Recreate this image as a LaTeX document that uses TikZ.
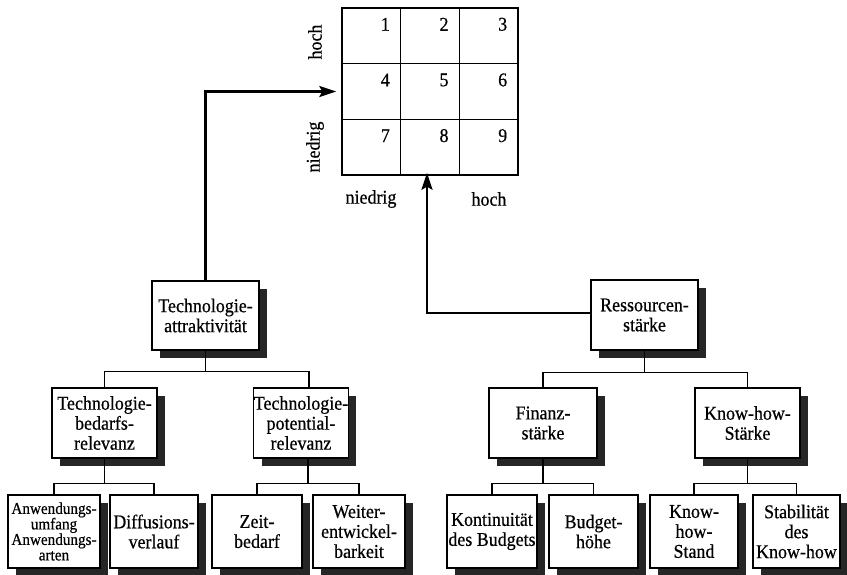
\documentclass[tikz,border=0pt]{standalone}
\usepackage{fontspec}
\setmainfont{Liberation Serif}[FakeStretch=0.92, FakeBold=0.5]
\usetikzlibrary{shadows,arrows.meta}
\begin{document}
\begin{tikzpicture}[x=1pt,y=-1pt,
  box/.style={draw, line width=1.3pt, fill=white, align=center, inner sep=0pt,
    font=\fontsize{19.5}{20}\selectfont,
    drop shadow={shadow xshift=8pt,shadow yshift=-8pt,fill=black!85,opacity=1}},
  cell/.style={draw, line width=1.4pt, minimum width=58.67pt, minimum height=55.67pt, inner sep=0pt},
  num/.style={font=\fontsize{19.5}{20}\selectfont, inner sep=0pt},
  axis/.style={font=\fontsize{19.5}{20}\selectfont, inner sep=0pt},
  conn/.style={line width=1.1pt},
  arr/.style={line width=2.6pt, -{Stealth[length=17pt,width=11pt,inset=3pt]}}
]
\useasboundingbox (0,0) rectangle (847,574);
% grid
\node[cell] (c1) at (371.33,35.83) {};
\node[cell] (c2) at (430,35.83) {};
\node[cell] (c3) at (488.67,35.83) {};
\node[cell] (c4) at (371.33,91.5) {};
\node[cell] (c5) at (430,91.5) {};
\node[cell] (c6) at (488.67,91.5) {};
\node[cell] (c7) at (371.33,147.17) {};
\node[cell] (c8) at (430,147.17) {};
\node[cell] (c9) at (488.67,147.17) {};
\foreach \i in {1,...,9} {
  \node[num] (n\i) at ([shift={(-16,17)}]c\i.north east) {\i};
}
\node[axis, rotate=90] (yh) at (315,42) {hoch};
\node[axis, rotate=90] (yn) at (315,147) {niedrig};
\node[axis] (xn) at (371,199) {niedrig};
\node[axis] (xh) at (489,199) {hoch};

% level 1
\node[box, minimum width=107pt, minimum height=69pt] (TA) at (205.5,315.5) {Technologie-\\attraktivität};
\node[box, minimum width=107pt, minimum height=70pt] (RS) at (644.5,315) {Ressourcen-\\stärke};
% level 2
\node[box, minimum width=105pt, minimum height=70pt] (TB) at (104.5,423) {Technologie-\\bedarfs-\\relevanz};
\node[box, minimum width=94pt, minimum height=70pt] (TP) at (301,423) {Technologie-\\potential-\\relevanz};
\node[box, minimum width=108pt, minimum height=70pt] (FS) at (543,423) {Finanz-\\stärke};
\node[box, minimum width=105pt, minimum height=70pt] (KS) at (747.5,423) {Know-how-\\Stärke};
% level 3
\node[box, minimum width=92pt, minimum height=73pt, font=\fontsize{16.5}{15.5}\selectfont] (AW) at (54,531.5) {Anwendungs-\\umfang\\Anwendungs-\\arten};
\node[box, minimum width=88pt, minimum height=73pt] (DV) at (154,531.5) {Diffusions-\\verlauf};
\node[box, minimum width=90pt, minimum height=73pt] (ZB) at (257,531.5) {Zeit-\\bedarf};
\node[box, minimum width=92pt, minimum height=73pt] (WE) at (359,531.5) {Weiter-\\entwickel-\\barkeit};
\node[box, minimum width=90pt, minimum height=73pt] (KB) at (492,531.5) {Kontinuität\\des Budgets};
\node[box, minimum width=89pt, minimum height=73pt] (BH) at (593.5,531.5) {Budget-\\höhe};
\node[box, minimum width=88pt, minimum height=73pt] (KN) at (694,531.5) {Know-\\how-\\Stand};
\node[box, minimum width=87pt, minimum height=73pt] (SK) at (796.5,531.5) {Stabilität\\des\\Know-how};

% connectors
\draw[conn] (TA.south) -- ++(0,21) -| (TB.north);
\draw[conn] (TA.south) -- ++(0,21) -| ([xshift=8pt]TP.north);
\draw[conn] (RS.south) -- ++(0,22) -| (FS.north);
\draw[conn] (RS.south) -- ++(0,22) -| (KS.north);
\draw[conn] (TB.south) -- ++(0,25) -| (AW.north);
\draw[conn] (TB.south) -- ++(0,25) -| (DV.north);
\draw[conn] ([xshift=7pt]TP.south) -- ++(0,25) -| (ZB.north);
\draw[conn] ([xshift=7pt]TP.south) -- ++(0,25) -| (WE.north);
\draw[conn] (FS.south) -- ++(0,25) -| (KB.north);
\draw[conn] (FS.south) -- ++(0,25) -| (BH.north);
\draw[conn] (KS.south) -- ++(0,25) -| (KN.north);
\draw[conn] (KS.south) -- ++(0,25) -| (SK.north);

% arrows to grid
\draw[arr] (TA.north) |- ([xshift=-5pt]c4.west);
\draw[arr] ([yshift=2pt]RS.west) -| ([shift={(-3pt,3pt)}]c8.south);
\end{tikzpicture}
\end{document}
